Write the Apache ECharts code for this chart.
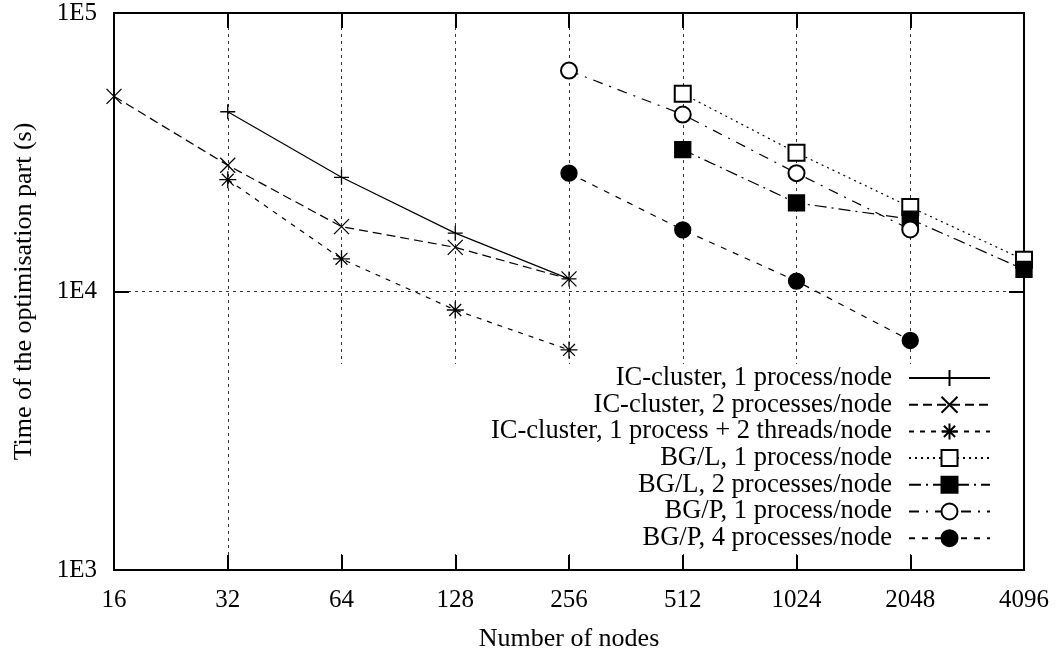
<!DOCTYPE html>
<html>
<head>
<meta charset="utf-8">
<script src="https://cdn.jsdelivr.net/npm/echarts@6/dist/echarts.min.js"></script>
<style>
  html, body { margin: 0; padding: 0; background: #fff; }
  #main { width: 1059px; height: 657px; }
</style>
</head>
<body>
<div id="main"></div>
<script>
// valeurs
var nodes = [16, 32, 64, 128, 256, 512, 1024, 2048, 4096];
var yTicks = [1000, 10000, 100000];
var yTickLabels = ['1E3', '1E4', '1E5'];

var icOneProc = [[32, 44200], [64, 25700], [128, 16200], [256, 11100]];
var icTwoProc = [[16, 50200], [32, 28400], [64, 17100], [128, 14400], [256, 11100]];
var icThreads = [[32, 25200], [64, 13100], [128, 8580], [256, 6170]];
var bglOneProc = [[512, 51300], [1024, 31500], [2048, 20100], [4096, 13000]];
var bglTwoProc = [[512, 32300], [1024, 20800], [2048, 18200], [4096, 12000]];
var bgpOneProc = [[256, 62100], [512, 43200], [1024, 26600], [2048, 16700]];
var bgpFourProc = [[256, 26600], [512, 16650], [1024, 10900], [2048, 6670]];

var names = [
    'IC-cluster, 1 process/node',
    'IC-cluster, 2 processes/node',
    'IC-cluster, 1 process + 2 threads/node',
    'BG/L, 1 process/node',
    'BG/L, 2 processes/node',
    'BG/P, 1 process/node',
    'BG/P, 4 processes/node'
];

var plus = 'path://M0,5L10,5M5,0L5,10';
var cross = 'path://M0,0L10,10M10,0L0,10';
var star = 'path://M0,5L10,5M5,0L5,10M1.5,1.5L8.5,8.5M8.5,1.5L1.5,8.5';

var serif = 'Liberation Serif';

function mkSeries(name, data, symbol, size, dash) {
    return {
        name: name,
        type: 'line',
        data: data,
        symbol: symbol,
        symbolSize: size,
        showAllSymbol: true,
        animation: false,
        itemStyle: { color: '#000', borderColor: '#000', borderWidth: 1.3 },
        lineStyle: { color: '#000', width: 1.2, type: dash }
    };
}

var series = [
    mkSeries(names[0], icOneProc, plus, 15, 'solid'),
    mkSeries(names[1], icTwoProc, cross, 15, [9, 5]),
    mkSeries(names[2], icThreads, star, 17, [5, 6]),
    mkSeries(names[3], bglOneProc, 'emptyRect', 16, [2, 4]),
    mkSeries(names[4], bglTwoProc, 'rect', 16, [12, 5, 2, 5]),
    mkSeries(names[5], bgpOneProc, 'emptyCircle', 16, [10, 7, 2, 7]),
    mkSeries(names[6], bgpFourProc, 'circle', 16, [6, 7])
];

// une légende par ligne, alignées à droite
var legends = names.map(function (n, i) {
    return {
        data: [n],
        orient: 'vertical',
        align: 'right',
        right: 68,
        top: 364 + i * 26.7,
        padding: 0,
        itemWidth: 81,
        itemHeight: 20,
        selectedMode: false,
        textStyle: {
            fontFamily: serif, fontSize: 26.5, lineHeight: 28, color: '#000',
            padding: [0, 12, 0, 0]
        }
    };
});

var myChart = echarts.init(document.getElementById('main'));

myChart.setOption({
    backgroundColor: '#fff',
    animation: false,
    grid: {
        left: 114, right: 35, top: 13, bottom: 84,
        show: true, borderColor: '#000', borderWidth: 2
    },
    graphic: [{
        type: 'rect',
        z: 3,
        shape: { x: 300, y: 364, width: 700, height: 190 },
        style: { fill: '#fff' }
    }],
    legend: legends,
    xAxis: [{
        type: 'log',
        logBase: 2,
        min: 16,
        max: 4096,
        splitNumber: 8,
        name: 'Number of nodes',
        nameLocation: 'middle',
        nameGap: 56,
        nameTextStyle: { fontFamily: serif, fontSize: 26, color: '#000' },
        axisLine: { lineStyle: { color: '#000', width: 2 } },
        axisTick: { inside: true, length: 15, lineStyle: { color: '#000', width: 2 } },
        axisLabel: {
            fontFamily: serif, fontSize: 25, color: '#000', margin: 18,
            formatter: function (v) {
                var k = Math.round(v);
                return nodes.indexOf(k) >= 0 ? String(k) : '';
            }
        },
        splitLine: { show: true, lineStyle: { color: '#333', width: 1, type: [3, 4] } },
        minorTick: { show: false }
    }, {
        type: 'log',
        logBase: 2,
        min: 16,
        max: 4096,
        splitNumber: 8,
        position: 'top',
        axisLine: { lineStyle: { color: '#000', width: 2 } },
        axisTick: { inside: true, length: 15, lineStyle: { color: '#000', width: 2 } },
        axisLabel: { show: false },
        splitLine: { show: false }
    }],
    yAxis: [{
        type: 'log',
        logBase: 10,
        min: 1000,
        max: 100000,
        splitNumber: 2,
        name: 'Time of the optimisation part (s)',
        nameLocation: 'middle',
        nameGap: 77,
        nameTextStyle: { fontFamily: serif, fontSize: 26, color: '#000' },
        axisLine: { lineStyle: { color: '#000', width: 2 } },
        axisTick: { inside: true, length: 15, lineStyle: { color: '#000', width: 2 } },
        axisLabel: {
            fontFamily: serif, fontSize: 25, color: '#000', margin: 17,
            formatter: function (v) {
                var k = yTicks.indexOf(Math.round(v));
                return k >= 0 ? yTickLabels[k] : '';
            }
        },
        splitLine: { show: true, lineStyle: { color: '#333', width: 1, type: [3, 4] } }
    }, {
        type: 'log',
        logBase: 10,
        min: 1000,
        max: 100000,
        splitNumber: 2,
        position: 'right',
        axisLine: { lineStyle: { color: '#000', width: 2 } },
        axisTick: { inside: true, length: 15, lineStyle: { color: '#000', width: 2 } },
        axisLabel: { show: false },
        splitLine: { show: false }
    }],
    series: series
});
</script>
</body>
</html>
